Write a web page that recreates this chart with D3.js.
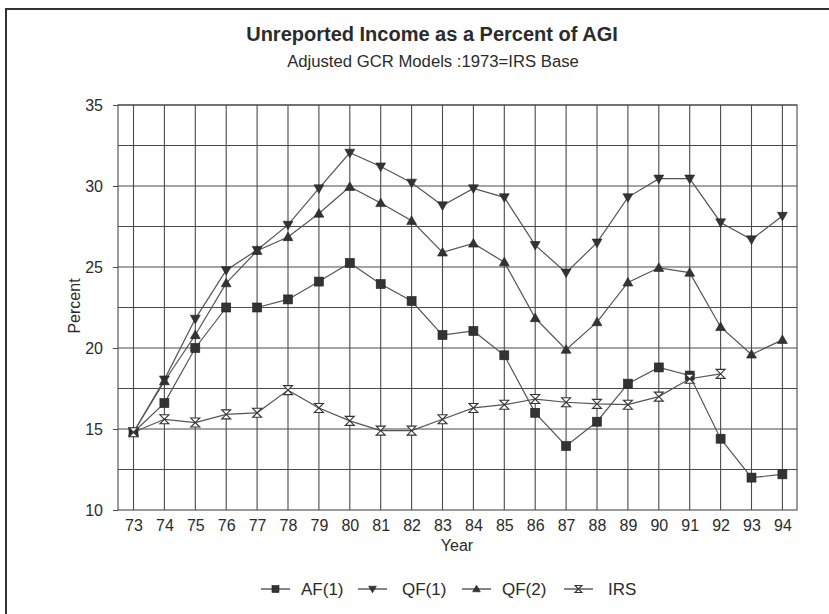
<!DOCTYPE html>
<html>
<head>
<meta charset="utf-8">
<script src="https://cdn.jsdelivr.net/npm/d3@7"></script>
<style>
  html, body { margin: 0; padding: 0; background: #fff; }
  svg { display: block; font-family: "Liberation Sans", Arial, Helvetica, sans-serif; }
</style>
</head>
<body>
<svg id="chart" width="829" height="614"></svg>
<script>
const years = ["73","74","75","76","77","78","79","80","81","82","83","84","85","86","87","88","89","90","91","92","93","94"];
const af1 = [14.8,16.6,20.0,22.5,22.5,23.0,24.1,25.25,23.95,22.9,20.8,21.05,19.55,16.0,13.95,15.45,17.8,18.8,18.3,14.4,12.0,12.2];
const qf1 = [14.8,18.05,21.8,24.8,26.05,27.6,29.85,32.05,31.2,30.2,28.8,29.85,29.3,26.35,24.65,26.5,29.3,30.45,30.45,27.75,26.7,28.15];
const qf2 = [14.8,17.95,20.8,24.0,26.0,26.85,28.3,29.95,28.95,27.85,25.9,26.45,25.3,21.85,19.9,21.6,24.05,24.95,24.65,21.3,19.6,20.5];
const irs = [14.8,15.6,15.4,15.9,16.0,17.4,16.3,15.5,14.9,14.9,15.6,16.3,16.5,16.85,16.65,16.55,16.5,17.0,18.1,18.4];
const yTicks = [10,15,20,25,30,35];
const yGrid = [12.5,15,17.5,20,22.5,25,27.5,30,32.5,35];
const seriesNames = ["AF(1)","QF(1)","QF(2)","IRS"];
const seriesSymbols = ["square","down","up","hourglass"];

const svg = d3.select("#chart");
const ink = "#2b2b2b";
const gridC = "#4a4a4a";
const lineC = "#555";

// outer frame (top + left visible)
svg.append("rect").attr("x",6).attr("y",9).attr("width",900).attr("height",700)
  .attr("fill","none").attr("stroke","#333").attr("stroke-width",2);

const L = 118, R = 797, T = 105, B = 510;
const x = d3.scalePoint().domain(years).range([133.5, 782.4]);
const y = d3.scaleLinear().domain([10,35]).range([B, T]);

// title
svg.append("text").attr("x",432).attr("y",40.5).attr("text-anchor","middle")
  .attr("font-size",20).attr("font-weight","bold").attr("fill",ink)
  .text("Unreported Income as a Percent of AGI");
svg.append("text").attr("x",433).attr("y",66.5).attr("text-anchor","middle")
  .attr("font-size",16.7).attr("fill",ink)
  .text("Adjusted GCR Models :1973=IRS Base");

// grid
const g = svg.append("g");
g.selectAll("line.hg").data(yGrid).join("line")
  .attr("x1",L).attr("x2",R).attr("y1",d=>y(d)).attr("y2",d=>y(d))
  .attr("stroke",gridC).attr("stroke-width",1.1);
g.selectAll("line.vg").data(years).join("line")
  .attr("x1",d=>x(d)).attr("x2",d=>x(d)).attr("y1",T).attr("y2",B)
  .attr("stroke",gridC).attr("stroke-width",1.1);
g.append("rect").attr("x",L).attr("y",T).attr("width",R-L).attr("height",B-T)
  .attr("fill","none").attr("stroke",gridC).attr("stroke-width",1.1);

// axes
const yAxis = svg.append("g").attr("transform",`translate(${L},0)`)
  .call(d3.axisLeft(y).tickValues(yTicks).tickSize(5).tickPadding(10).tickFormat(d3.format("d")));
yAxis.select(".domain").remove();
yAxis.selectAll("line").attr("stroke",gridC);
yAxis.selectAll("text").attr("font-size",16).attr("fill",ink).attr("font-family","Liberation Sans, Arial, sans-serif");

const xAxis = svg.append("g").attr("transform",`translate(0,${B})`)
  .call(d3.axisBottom(x).tickSize(0).tickPadding(10));
xAxis.select(".domain").remove();
xAxis.selectAll("text").attr("font-size",16).attr("fill",ink).attr("font-family","Liberation Sans, Arial, sans-serif");

svg.append("text").attr("x",457).attr("y",551).attr("text-anchor","middle")
  .attr("font-size",16).attr("fill",ink).text("Year");
svg.append("text").attr("transform","translate(80,306) rotate(-90)").attr("text-anchor","middle")
  .attr("font-size",16).attr("fill",ink).text("Percent");

// markers
function drawMarker(sel, kind, s) {
  const h = s/2;
  if (kind === "square") {
    sel.append("rect").attr("x",-h).attr("y",-h).attr("width",s).attr("height",s)
      .attr("fill","#333").attr("stroke","#222").attr("stroke-width",0.6);
  } else if (kind === "down") {
    sel.append("path").attr("d",`M${-h*1.1},${-h*0.8}L${h*1.1},${-h*0.8}L0,${h*1.1}Z`)
      .attr("fill","#333").attr("stroke","#222").attr("stroke-width",0.6);
  } else if (kind === "up") {
    sel.append("path").attr("d",`M${-h*1.1},${h*0.8}L${h*1.1},${h*0.8}L0,${-h*1.1}Z`)
      .attr("fill","#333").attr("stroke","#222").attr("stroke-width",0.6);
  } else {
    sel.append("path").attr("d",`M${-h},${-h}L${h},${-h}L${-h},${h}L${h},${h}Z`)
      .attr("fill","#fff").attr("stroke","#333").attr("stroke-width",1.1);
  }
}

const allSeries = [af1, qf1, qf2, irs];
const lineGen = d3.line().x((d,i)=>x(years[i])).y(d=>y(d));
allSeries.forEach((data, k) => {
  svg.append("path").datum(data).attr("d",lineGen)
    .attr("fill","none").attr("stroke",lineC).attr("stroke-width",1.2);
});
allSeries.forEach((data, k) => {
  data.forEach((v,i) => {
    const m = svg.append("g").attr("transform",`translate(${x(years[i])},${y(v)})`);
    drawMarker(m, seriesSymbols[k], 9);
  });
});

// legend
const legX = [261, 358, 462, 564];
const legTextX = [301, 402, 502, 608];
seriesNames.forEach((name,k) => {
  const lg = svg.append("g").attr("transform",`translate(${legX[k]},589)`);
  lg.append("line").attr("x1",0).attr("x2",29).attr("y1",0).attr("y2",0)
    .attr("stroke","#333").attr("stroke-width",1.2);
  const m = lg.append("g").attr("transform","translate(14.5,0)");
  drawMarker(m, seriesSymbols[k], 7);
  lg.append("text").attr("x",legTextX[k]-legX[k]).attr("y",5.5).attr("font-size",17).attr("fill",ink).text(name);
});
</script>
</body>
</html>
